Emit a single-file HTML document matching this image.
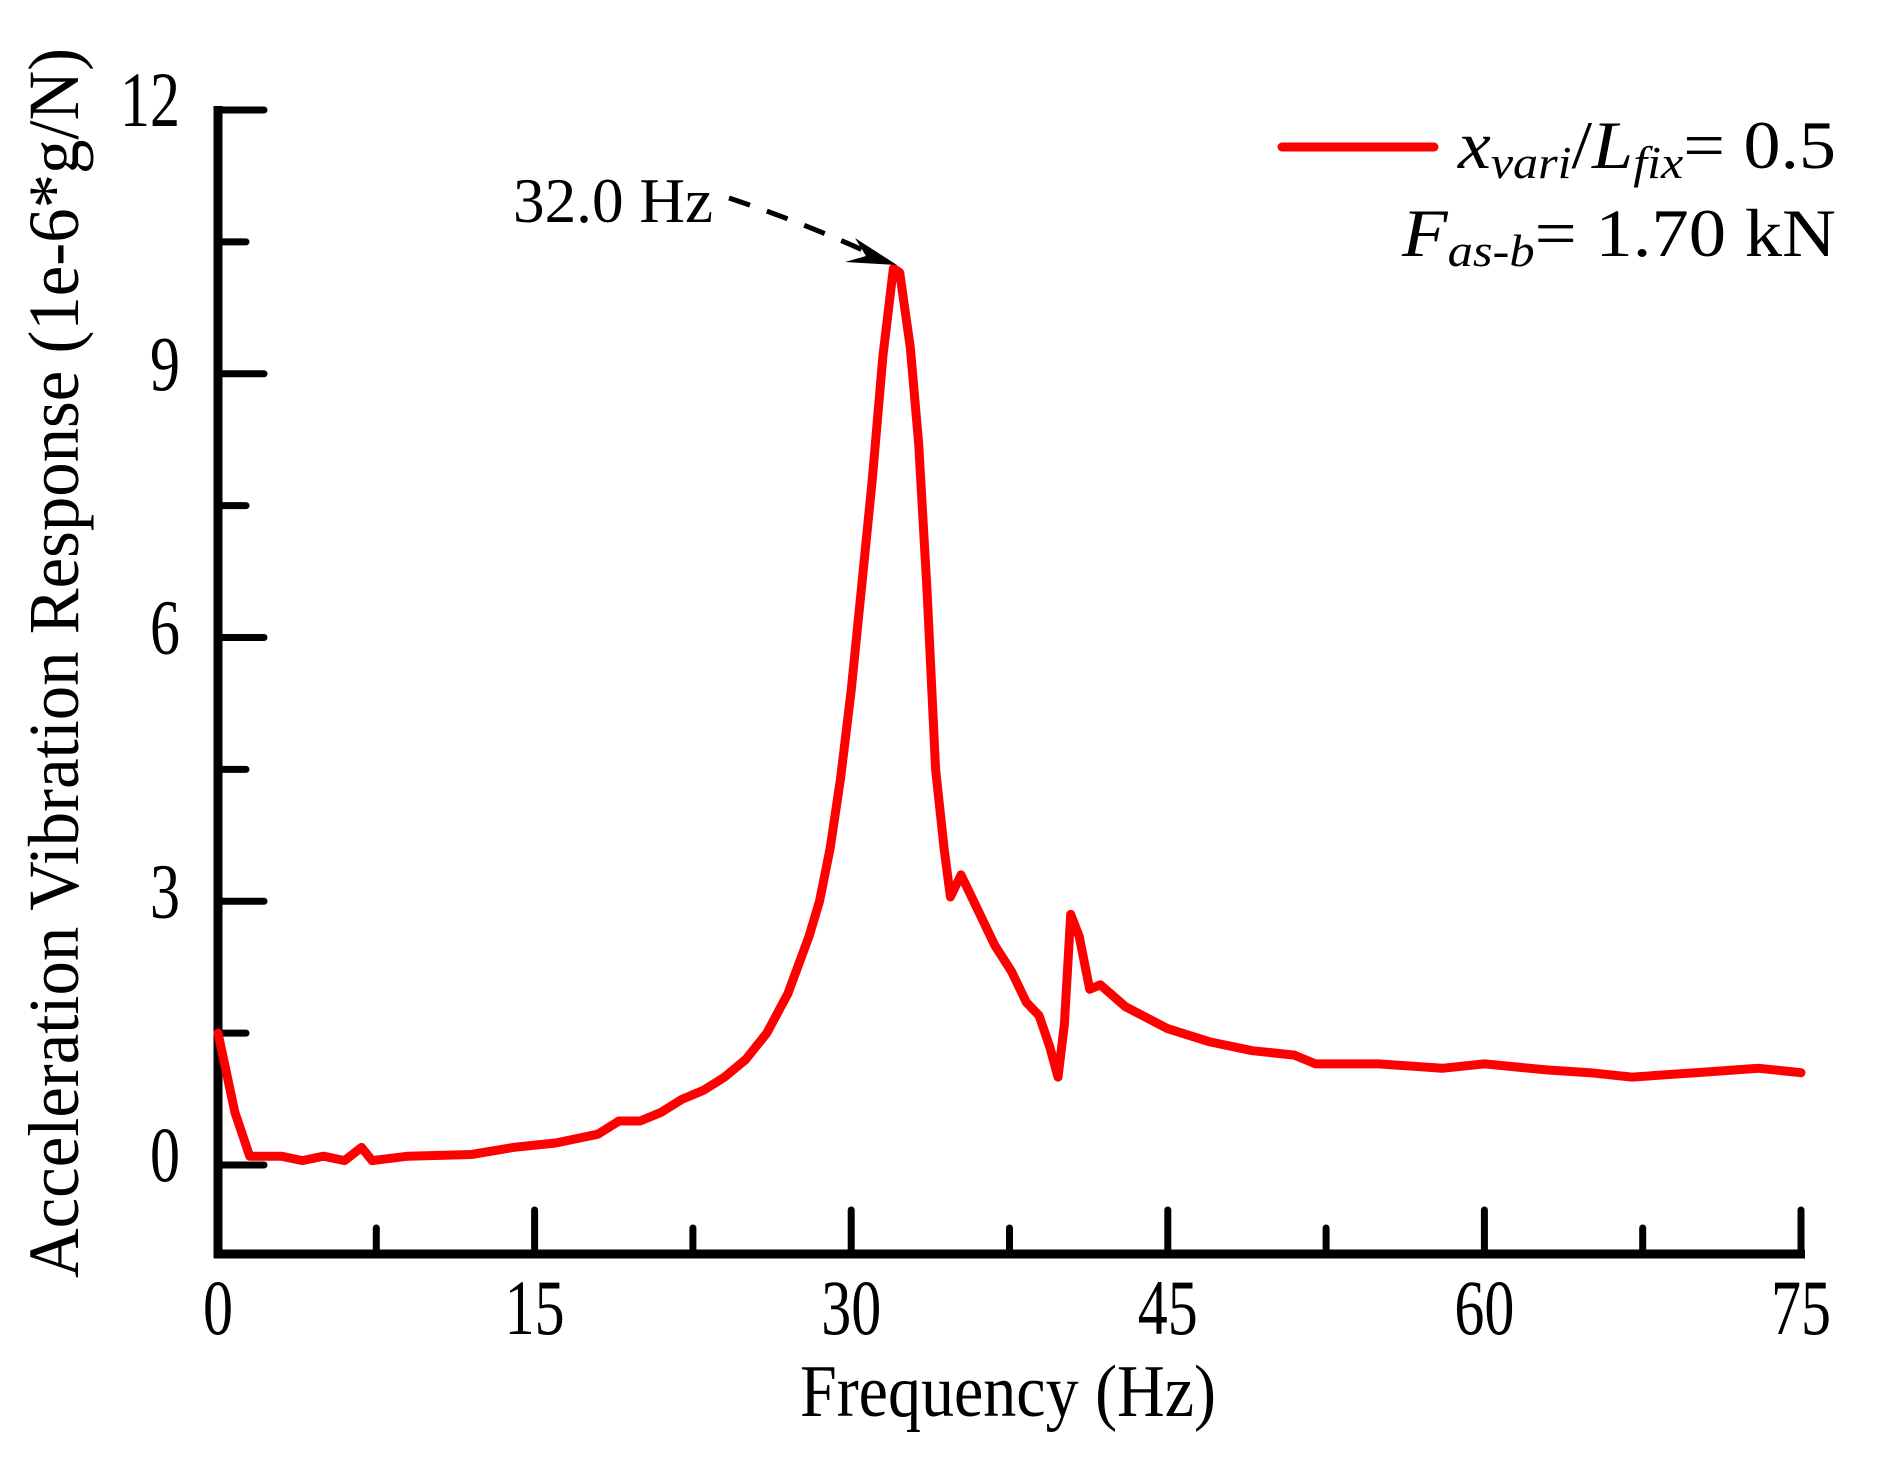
<!DOCTYPE html>
<html><head><meta charset="utf-8"><style>
html,body{margin:0;padding:0;background:#fff;}
svg{display:block;font-family:"Liberation Serif",serif;}
</style></head><body>
<svg id="chart" width="1881" height="1457" viewBox="0 0 1881 1457" xmlns="http://www.w3.org/2000/svg">
<rect width="1881" height="1457" fill="#fff"/>
<g id="axes"></g>
<g id="series"></g>
<text x="1008" y="1416" font-size="74" textLength="416" lengthAdjust="spacingAndGlyphs" text-anchor="middle">Frequency (Hz)</text>
<text transform="translate(78,663) rotate(-90)" font-size="72" textLength="1230" lengthAdjust="spacingAndGlyphs" text-anchor="middle">Acceleration Vibration Response (1e-6*g/N)</text>
<g>
<text x="513" y="222" font-size="64" textLength="200" lengthAdjust="spacingAndGlyphs">32.0 Hz</text>
<path d="M729,198 Q810,225 880,258" fill="none" stroke="#000" stroke-width="5" stroke-dasharray="22,18"/>
<polygon points="897,265 855,238 866,256 845,262" fill="#000"/>
</g>
<g>
<line x1="1282" y1="147" x2="1434" y2="147" stroke="#f00" stroke-width="9" stroke-linecap="round"/>
<text x="1458" y="168" font-size="68" textLength="378" lengthAdjust="spacingAndGlyphs"><tspan font-style="italic">x</tspan><tspan font-style="italic" font-size="46" dy="10">vari</tspan><tspan dy="-10">/</tspan><tspan font-style="italic">L</tspan><tspan font-style="italic" font-size="46" dy="10">fix</tspan><tspan dy="-10">= 0.5</tspan></text>
<text x="1402" y="256" font-size="68" textLength="434" lengthAdjust="spacingAndGlyphs"><tspan font-style="italic">F</tspan><tspan font-style="italic" font-size="46" dy="10">as-b</tspan><tspan dy="-10">= 1.70 kN</tspan></text>
</g>
</svg>
<script>
const freqs = [0,0.8,1.5,3,4,5,6,6.8,7.3,9,12,14,16,18,19,20,21,22,23,24,25,26,27,28,28.5,29,29.5,30,30.5,31,31.5,32,32.3,32.8,33.2,33.6,34,34.4,34.7,35.2,36.2,36.8,37.6,38.3,38.9,39.4,39.8,40.1,40.4,40.8,41.3,41.8,43,45,47,49,51,52,55,58,60,63,65,67,70,73,75];
const response = [1.5,0.6,0.1,0.1,0.05,0.1,0.05,0.2,0.05,0.1,0.12,0.2,0.25,0.35,0.5,0.5,0.6,0.75,0.85,1.0,1.2,1.5,1.95,2.6,3.0,3.6,4.4,5.4,6.6,7.8,9.2,10.2,10.15,9.3,8.2,6.5,4.5,3.6,3.05,3.3,2.8,2.5,2.2,1.85,1.7,1.35,1.0,1.6,2.85,2.6,2.0,2.05,1.8,1.55,1.4,1.3,1.25,1.15,1.15,1.1,1.15,1.08,1.05,1.0,1.05,1.1,1.05];
const xTicks = [0,15,30,45,60,75];
const xMinor = [7.5,22.5,37.5,52.5,67.5];
const yTicks = [0,3,6,9,12];
const yMinor = [1.5,4.5,7.5,10.5];
const NS='http://www.w3.org/2000/svg';
const X0=218,X1=1801,Y0=1165,Y12=110,AXY=1254;
function xs(v){return X0+(X1-X0)*v/75;}
function ys(v){return Y0-(Y0-Y12)*v/12;}
const axes=document.getElementById('axes');
function mk(tag,attrs,parent){const e=document.createElementNS(NS,tag);for(const k in attrs)e.setAttribute(k,attrs[k]);parent.appendChild(e);return e;}
let e;
e=mk('line',{x1:X0,y1:ys(12)-4,x2:X0,y2:AXY+4,stroke:'#000','stroke-width':9},axes);


e=mk('line',{x1:X0-4,y1:AXY,x2:X1+4,y2:AXY,stroke:'#000','stroke-width':9},axes);


yTicks.forEach(v=>{
  e=mk('line',{x1:X0,y1:ys(v),x2:X0+46,y2:ys(v),stroke:'#000','stroke-width':7,'stroke-linecap':'round'},axes);
  
  
  const s=String(v);
  const t=mk('text',{x:180,y:ys(v)+16,'font-size':78,'text-anchor':'end',textLength:s.length*30,lengthAdjust:'spacingAndGlyphs'},axes);
  t.textContent=s;
  
  
});
yMinor.forEach(v=>{
  e=mk('line',{x1:X0,y1:ys(v),x2:X0+28,y2:ys(v),stroke:'#000','stroke-width':7,'stroke-linecap':'round'},axes);
  
  
});
xTicks.forEach(v=>{
  e=mk('line',{x1:xs(v),y1:AXY,x2:xs(v),y2:AXY-44,stroke:'#000','stroke-width':7,'stroke-linecap':'round'},axes);
  
  
  const s=String(v);
  const t=mk('text',{x:xs(v),y:1334,'font-size':78,'text-anchor':'middle',textLength:s.length*30,lengthAdjust:'spacingAndGlyphs'},axes);
  t.textContent=s;
  
  
});
xMinor.forEach(v=>{
  e=mk('line',{x1:xs(v),y1:AXY,x2:xs(v),y2:AXY-26,stroke:'#000','stroke-width':7,'stroke-linecap':'round'},axes);
  
  
});
const d=freqs.map((f,i)=>(i?'L':'M')+xs(f).toFixed(1)+','+ys(response[i]).toFixed(1)).join(' ');
const p=mk('path',{d:d,fill:'none',stroke:'#f00','stroke-width':9,'stroke-linejoin':'round','stroke-linecap':'round'},document.getElementById('series'));


</script>
</body></html>
